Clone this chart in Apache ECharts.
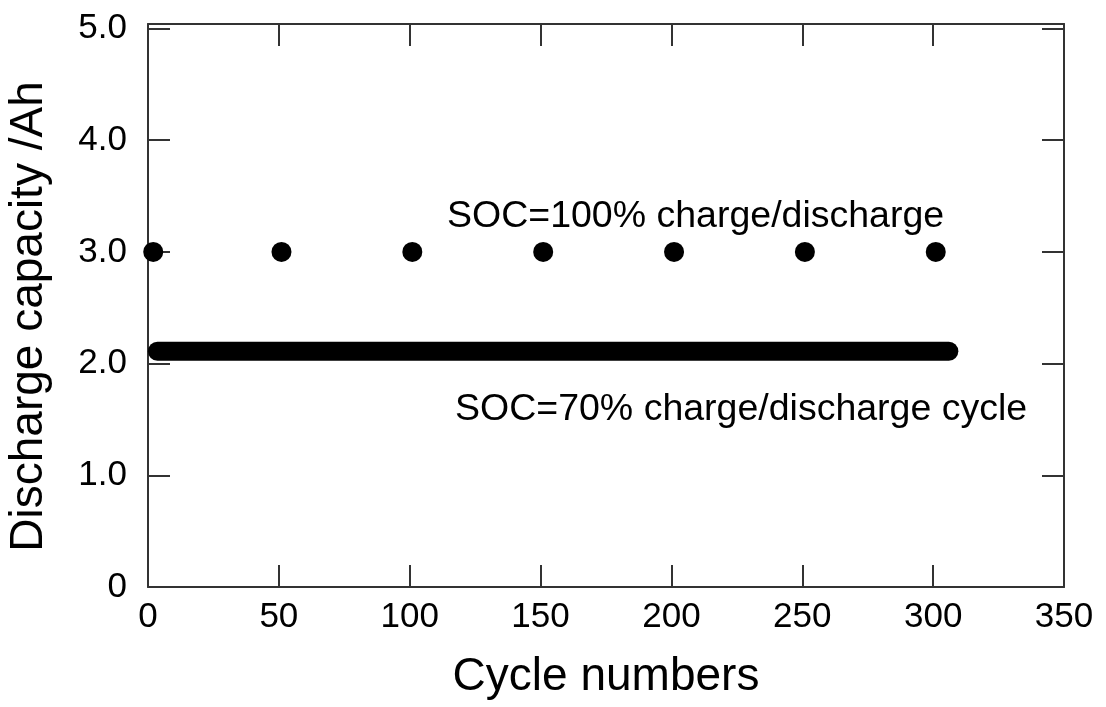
<!DOCTYPE html>
<html>
<head>
<meta charset="utf-8">
<script src="https://cdn.jsdelivr.net/npm/echarts@6/dist/echarts.min.js"></script>
<style>html,body{margin:0;padding:0;background:#fff}#c{width:1106px;height:707px}</style>
</head>
<body>
<div id="c"></div>
<script>
// Data
var cycles100 = [2, 51, 101, 151, 201, 251, 301];
var capacity100 = [3.0, 3.0, 3.0, 3.0, 3.0, 3.0, 3.0];
var cycles70 = [3.6, 306];
var capacity70 = [2.11, 2.11];
var xTicks = [0, 50, 100, 150, 200, 250, 300, 350];
var yTicks = ['0', '1.0', '2.0', '3.0', '4.0', '5.0'];
var label100 = 'SOC=100% charge/discharge';
var label70 = 'SOC=70% charge/discharge cycle';

var FONT = 'Liberation Sans, Arial, sans-serif';
var axisColor = '#333';
var tickFont = 35;

function pairs(xs, ys){ return xs.map(function(x,i){ return [x, ys[i]]; }); }

var chart = echarts.init(document.getElementById('c'));
function common(){
  return {
    min: 0,
    axisLine: {show: true, onZero: false, lineStyle: {color: axisColor, width: 2}},
    axisTick: {show: true, inside: true, length: 22, lineStyle: {color: axisColor, width: 2}},
    splitLine: {show: false}
  };
}
function isInt(v){ return Math.abs(v - Math.round(v)) < 1e-6; }
chart.setOption({
  animation: false,
  backgroundColor: '#fff',
  grid: {left: 148, right: 42, top: 24, bottom: 120, containLabel: false, outerBoundsMode: 'none'},
  xAxis: [
    Object.assign(common(), {
      type: 'value', max: 350, interval: 50, position: 'bottom',
      name: 'Cycle numbers', nameLocation: 'middle', nameGap: 67,
      nameTextStyle: {fontFamily: FONT, fontSize: 46, color: '#000'},
      axisLabel: {fontFamily: FONT, fontSize: tickFont, color: '#000', margin: 13,
        formatter: function(v){ return xTicks.indexOf(v) >= 0 ? String(v) : ''; }}
    }),
    Object.assign(common(), {
      type: 'value', max: 350, interval: 50, position: 'top',
      axisLabel: {show: false}
    })
  ],
  yAxis: [
    Object.assign(common(), {
      type: 'value', max: 5.04, interval: 1, position: 'left',
      name: 'Discharge capacity /Ah', nameLocation: 'middle', nameGap: 96,
      nameTextStyle: {fontFamily: FONT, fontSize: 46, color: '#000', padding: [0, 22, 0, 0]},
      axisLabel: {fontFamily: FONT, fontSize: tickFont, color: '#000', margin: 21,
        formatter: function(v){ return isInt(v) ? yTicks[Math.round(v)] : ''; }}
    }),
    Object.assign(common(), {
      type: 'value', max: 5.04, interval: 1, position: 'right',
      axisLabel: {show: false}
    })
  ],
  series: [
    {
      type: 'line', data: pairs(cycles70, capacity70), showSymbol: false,
      symbol: 'none', clip: true,
      lineStyle: {color: '#000', width: 19, cap: 'round'}, z: 3
    },
    {
      type: 'scatter', data: pairs(cycles100, capacity100), symbol: 'circle',
      symbolSize: 20, itemStyle: {color: '#000', opacity: 1}, clip: false, z: 4
    }
  ],
  graphic: [
    {type: 'text', left: 447, top: 198, style: {text: label100, font: '37.5px ' + FONT, fill: '#000'}},
    {type: 'text', left: 455, top: 391, style: {text: label70, font: '37.5px ' + FONT, fill: '#000'}}
  ]
});
</script>
</body>
</html>
